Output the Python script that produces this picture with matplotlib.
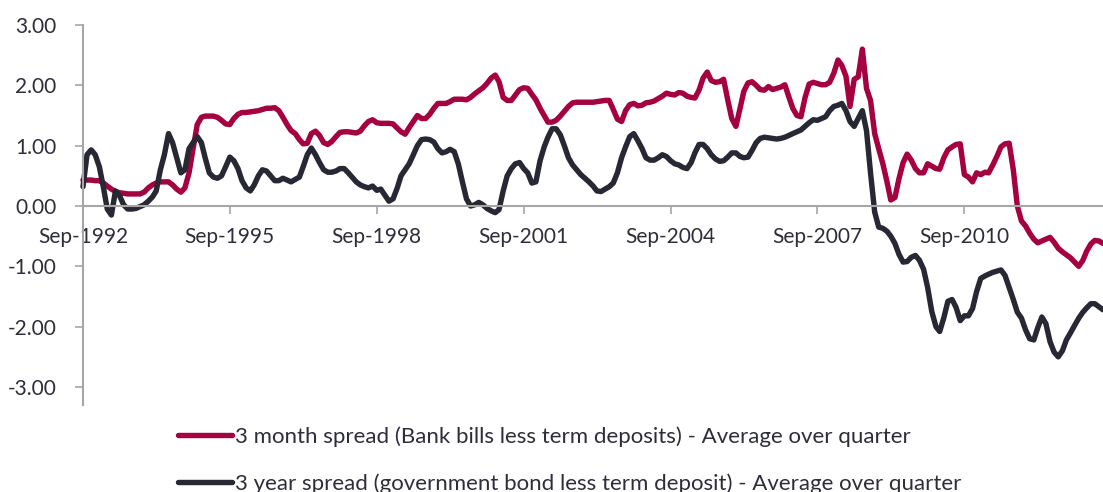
import matplotlib

matplotlib.use("Agg")
import matplotlib.pyplot as plt
import matplotlib.dates as mdates
import pandas as pd
from matplotlib.ticker import FixedLocator, FuncFormatter

plt.rcParams["font.family"] = ["Lato", "DejaVu Sans"]

# Monthly observations, Sep-1992 onwards
START = "1992-09-01"

bank_bill_spread = [
    0.43, 0.43, 0.43, 0.42, 0.42, 0.38, 0.33, 0.28, 0.24, 0.22,
    0.21, 0.20, 0.20, 0.20, 0.20, 0.23, 0.30, 0.35, 0.38, 0.40,
    0.40, 0.40, 0.35, 0.28, 0.23, 0.30, 0.55, 0.95, 1.35, 1.47,
    1.49, 1.49, 1.49, 1.47, 1.42, 1.36, 1.35, 1.45, 1.52, 1.55,
    1.55, 1.56, 1.57, 1.58, 1.60, 1.62, 1.62, 1.63, 1.58, 1.47,
    1.35, 1.25, 1.20, 1.10, 1.03, 1.04, 1.20, 1.24, 1.17, 1.05,
    1.02, 1.07, 1.15, 1.22, 1.23, 1.23, 1.22, 1.21, 1.24, 1.33,
    1.40, 1.43, 1.38, 1.37, 1.37, 1.37, 1.36, 1.29, 1.23, 1.19,
    1.30, 1.40, 1.50, 1.45, 1.45, 1.52, 1.62, 1.70, 1.70, 1.70,
    1.73, 1.77, 1.77, 1.77, 1.76, 1.80, 1.86, 1.91, 1.96, 2.03,
    2.12, 2.17, 2.06, 1.80, 1.75, 1.75, 1.84, 1.93, 1.96, 1.95,
    1.85, 1.76, 1.62, 1.50, 1.39, 1.39, 1.42, 1.49, 1.57, 1.65,
    1.71, 1.72, 1.72, 1.72, 1.72, 1.72, 1.73, 1.74, 1.75, 1.75,
    1.60, 1.44, 1.40, 1.58, 1.68, 1.70, 1.66, 1.67, 1.71, 1.72,
    1.74, 1.78, 1.82, 1.87, 1.85, 1.84, 1.88, 1.87, 1.82, 1.80,
    1.79, 1.92, 2.12, 2.22, 2.08, 2.05, 2.06, 2.10, 1.76, 1.45,
    1.32, 1.62, 1.90, 2.04, 2.06, 2.00, 1.93, 1.92, 1.98, 1.93,
    1.95, 1.97, 2.01, 1.80, 1.62, 1.50, 1.48, 1.80, 2.02, 2.05,
    2.03, 2.01, 2.01, 2.05, 2.20, 2.42, 2.33, 2.15, 1.65, 2.10,
    2.14, 2.60, 1.95, 1.75, 1.20, 0.95, 0.70, 0.40, 0.10, 0.14,
    0.45, 0.72, 0.86, 0.76, 0.62, 0.55, 0.55, 0.70, 0.66, 0.62,
    0.61, 0.80, 0.93, 0.98, 1.02, 1.03, 0.52, 0.48, 0.40, 0.55,
    0.52, 0.56, 0.55, 0.68, 0.82, 0.98, 1.03, 1.04, 0.60, 0.00,
    -0.25, -0.33, -0.45, -0.55, -0.61, -0.58, -0.55, -0.52, -0.60, -0.70,
    -0.76, -0.81, -0.86, -0.93, -1.00, -0.90, -0.75, -0.63, -0.57, -0.58,
    -0.62,
]

govt_bond_spread = [
    0.32, 0.85, 0.93, 0.85, 0.65, 0.30, -0.05, -0.15, 0.25, 0.17,
    0.02, -0.05, -0.05, -0.04, -0.01, 0.02, 0.08, 0.15, 0.25, 0.60,
    0.85, 1.20, 1.05, 0.80, 0.55, 0.60, 0.95, 1.05, 1.15, 1.05,
    0.80, 0.55, 0.48, 0.46, 0.50, 0.65, 0.81, 0.75, 0.62, 0.42,
    0.30, 0.25, 0.35, 0.50, 0.60, 0.58, 0.50, 0.42, 0.42, 0.46,
    0.43, 0.40, 0.44, 0.48, 0.65, 0.85, 0.96, 0.85, 0.72, 0.60,
    0.56, 0.56, 0.58, 0.62, 0.62, 0.55, 0.48, 0.40, 0.35, 0.32,
    0.30, 0.33, 0.26, 0.28, 0.18, 0.08, 0.12, 0.30, 0.50, 0.60,
    0.70, 0.85, 1.00, 1.10, 1.11, 1.10, 1.06, 0.95, 0.88, 0.90,
    0.94, 0.90, 0.70, 0.40, 0.12, 0.00, 0.02, 0.06, 0.02, -0.04,
    -0.08, -0.11, -0.06, 0.25, 0.50, 0.62, 0.70, 0.72, 0.62, 0.55,
    0.38, 0.40, 0.75, 0.98, 1.14, 1.28, 1.28, 1.18, 1.00, 0.80,
    0.68, 0.60, 0.52, 0.46, 0.40, 0.33, 0.25, 0.24, 0.28, 0.32,
    0.38, 0.55, 0.80, 0.98, 1.15, 1.20, 1.08, 0.95, 0.80, 0.76,
    0.76, 0.80, 0.85, 0.82, 0.75, 0.70, 0.68, 0.64, 0.62, 0.72,
    0.88, 1.02, 1.02, 0.95, 0.85, 0.78, 0.74, 0.75, 0.81, 0.88,
    0.88, 0.82, 0.80, 0.81, 0.92, 1.05, 1.12, 1.14, 1.13, 1.12,
    1.11, 1.12, 1.14, 1.17, 1.20, 1.23, 1.26, 1.32, 1.38, 1.43,
    1.42, 1.45, 1.48, 1.58, 1.65, 1.67, 1.70, 1.58, 1.40, 1.32,
    1.45, 1.58, 1.25, 0.55, -0.10, -0.35, -0.37, -0.42, -0.50, -0.62,
    -0.80, -0.93, -0.92, -0.85, -0.82, -0.90, -1.05, -1.35, -1.75, -2.00,
    -2.08, -1.85, -1.58, -1.55, -1.68, -1.90, -1.82, -1.82, -1.70, -1.42,
    -1.20, -1.16, -1.13, -1.10, -1.08, -1.06, -1.15, -1.35, -1.55, -1.76,
    -1.86, -2.05, -2.20, -2.22, -2.02, -1.84, -1.95, -2.25, -2.42, -2.50,
    -2.40, -2.22, -2.10, -1.98, -1.86, -1.76, -1.69, -1.62, -1.62, -1.67,
    -1.72,
]

labels = [
    "3 month spread (Bank bills less term deposits) - Average over quarter",
    "3 year spread (government bond less term deposit) - Average over quarter",
]
y_ticks = [3, 2, 1, 0, -1, -2, -3]
tick_years = [1992, 1995, 1998, 2001, 2004, 2007, 2010]

RED = "#A5003F"
DARK = "#272833"
TEXT = "#2E2E3A"
AXIS = "#A6A6A6"

dates = pd.date_range(START, periods=len(bank_bill_spread), freq="MS")

fig = plt.figure(figsize=(11.03, 4.92), dpi=100)
ax = fig.add_axes([83 / 1103, 1 - 387 / 492, 1 - 83 / 1103, 362 / 492])

ax.plot(dates, bank_bill_spread, color=RED, lw=3.9, solid_joinstyle="round",
        solid_capstyle="round", label=labels[0], clip_on=False)
ax.plot(dates, govt_bond_spread, color=DARK, lw=3.9, solid_joinstyle="round",
        solid_capstyle="round", label=labels[1], clip_on=False)

ax.set_xlim(dates[0], dates[-1])
ax.set_ylim(-3, 3)

# y axis: plain 2-dp labels, small outward ticks, no gridlines
ax.yaxis.set_major_locator(FixedLocator(y_ticks))
ax.yaxis.set_major_formatter(FuncFormatter(lambda v, _: f"{v:.2f}"))
ax.tick_params(axis="y", direction="out", length=6, width=1.2, color=AXIS,
               labelsize=15, labelcolor=TEXT, pad=13)

# x axis sits on the zero line
ax.spines["bottom"].set_position(("data", 0))
ax.xaxis.set_major_locator(FixedLocator(
    [mdates.date2num(pd.Timestamp(f"{y}-09-01")) for y in tick_years]))
ax.xaxis.set_major_formatter(mdates.DateFormatter("%b-%Y"))
ax.tick_params(axis="x", direction="out", length=6, width=1.2, color=AXIS,
               labelsize=15, labelcolor=TEXT, pad=9)

for side in ("top", "right"):
    ax.spines[side].set_visible(False)
for side in ("left", "bottom"):
    ax.spines[side].set_color(AXIS)
    ax.spines[side].set_linewidth(1.5)
ax.spines["left"].set_bounds(-3.3, 3)

leg = fig.legend(loc="upper left", bbox_to_anchor=(178 / 1103, 1 - 426 / 492),
                 frameon=False, fontsize=16, labelcolor=TEXT, handlelength=2.45,
                 handletextpad=0.1, labelspacing=1.2, borderpad=0,
                 borderaxespad=0)

fig.savefig("out.png", dpi=100, facecolor="white")
